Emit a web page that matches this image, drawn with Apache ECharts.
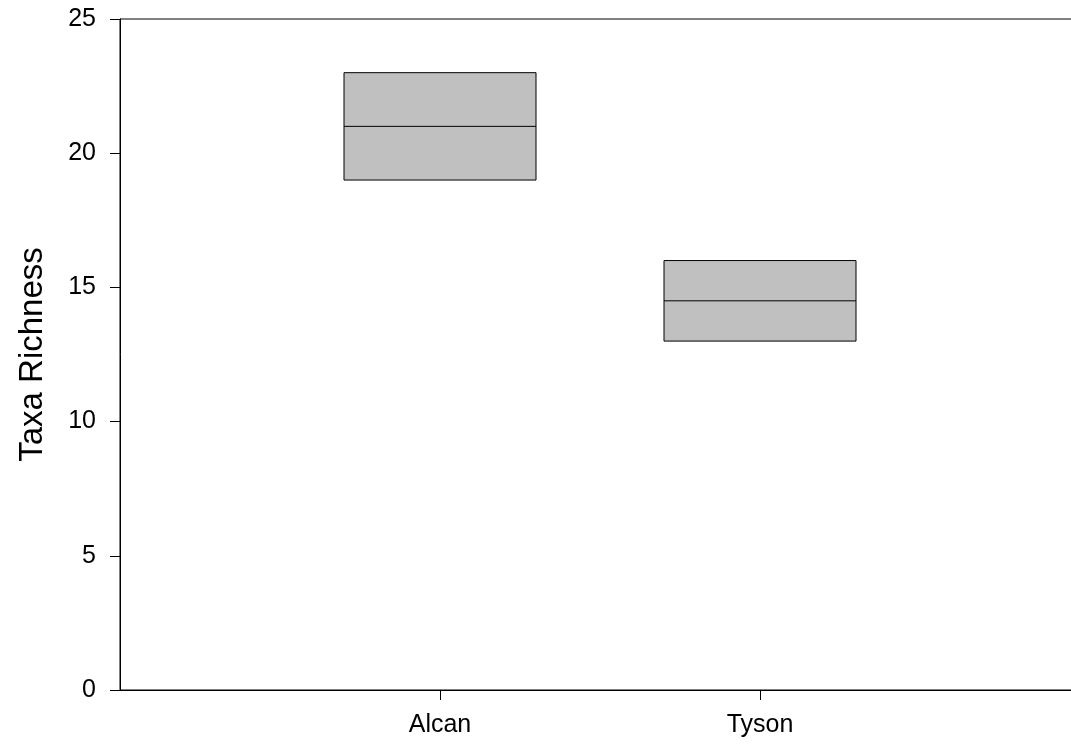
<!DOCTYPE html>
<html>
<head>
<meta charset="utf-8">
<script src="https://cdn.jsdelivr.net/npm/echarts@6/dist/echarts.min.js"></script>
<style>
  html, body { margin: 0; padding: 0; background: #fff; overflow: hidden; width: 1071px; height: 747px; }
  #chart { width: 1100px; height: 747px; }
</style>
</head>
<body>
<div id="chart"></div>
<script>
// Sites and their x positions on the numeric axis
const sites = ['Alcan', 'Tyson'];
const sitePos = [1, 2];
// Box statistics per site (taxa richness)
const lowerQuartile = [19, 13];
const medianVals = [21, 14.5];
const upperQuartile = [23, 16];
// Y axis ticks
const yTicks = [0, 5, 10, 15, 20, 25];

const boxHalfWidth = 0.3;
const font = 'Arial, "Liberation Sans", sans-serif';

const boxData = sites.map((s, i) => [sitePos[i], lowerQuartile[i], medianVals[i], upperQuartile[i]]);

function renderBox(params, api) {
  const x = api.value(0);
  const lo = api.coord([x - boxHalfWidth, api.value(1)]);
  const hi = api.coord([x + boxHalfWidth, api.value(3)]);
  const medL = api.coord([x - boxHalfWidth, api.value(2)]);
  const medR = api.coord([x + boxHalfWidth, api.value(2)]);
  return {
    type: 'group',
    children: [
      {
        type: 'rect',
        shape: { x: lo[0], y: hi[1], width: hi[0] - lo[0], height: lo[1] - hi[1] },
        style: { fill: '#c0c0c0', stroke: '#000', lineWidth: 1 }
      },
      {
        type: 'line',
        shape: { x1: medL[0], y1: medL[1], x2: medR[0], y2: medR[1] },
        style: { stroke: '#000', lineWidth: 1 }
      }
    ]
  };
}

const chart = echarts.init(document.getElementById('chart'), null, { renderer: 'canvas' });
chart.setOption({
  animation: false,
  backgroundColor: '#fff',
  grid: {
    left: 120, top: 19, width: 960, height: 671,
    show: true, borderColor: '#000', borderWidth: 1, backgroundColor: 'transparent'
  },
  xAxis: {
    type: 'value',
    min: 0, max: 3, interval: 1,
    splitLine: { show: false },
    axisLine: { show: true, lineStyle: { color: '#000', width: 1 } },
    axisTick: { show: true, inside: false, length: 10, lineStyle: { color: '#000' }, customValues: sitePos },
    axisLabel: {
      customValues: sitePos,
      margin: 23,
      color: '#000', fontFamily: font, fontSize: 25,
      formatter: v => sites[sitePos.indexOf(v)] || ''
    }
  },
  yAxis: {
    type: 'value',
    min: 0, max: 25, interval: 5,
    name: 'Taxa Richness',
    nameLocation: 'middle',
    nameGap: 71,
    nameTextStyle: { color: '#000', fontFamily: font, fontSize: 33 },
    splitLine: { show: false },
    axisLine: { show: true, lineStyle: { color: '#000', width: 1 } },
    axisTick: { show: true, inside: false, length: 10, lineStyle: { color: '#000' }, customValues: yTicks },
    axisLabel: {
      customValues: yTicks,
      margin: 24,
      color: '#000', fontFamily: font, fontSize: 25
    }
  },
  series: [{
    type: 'custom',
    renderItem: renderBox,
    data: boxData,
    clip: false
  }]
});
</script>
</body>
</html>
